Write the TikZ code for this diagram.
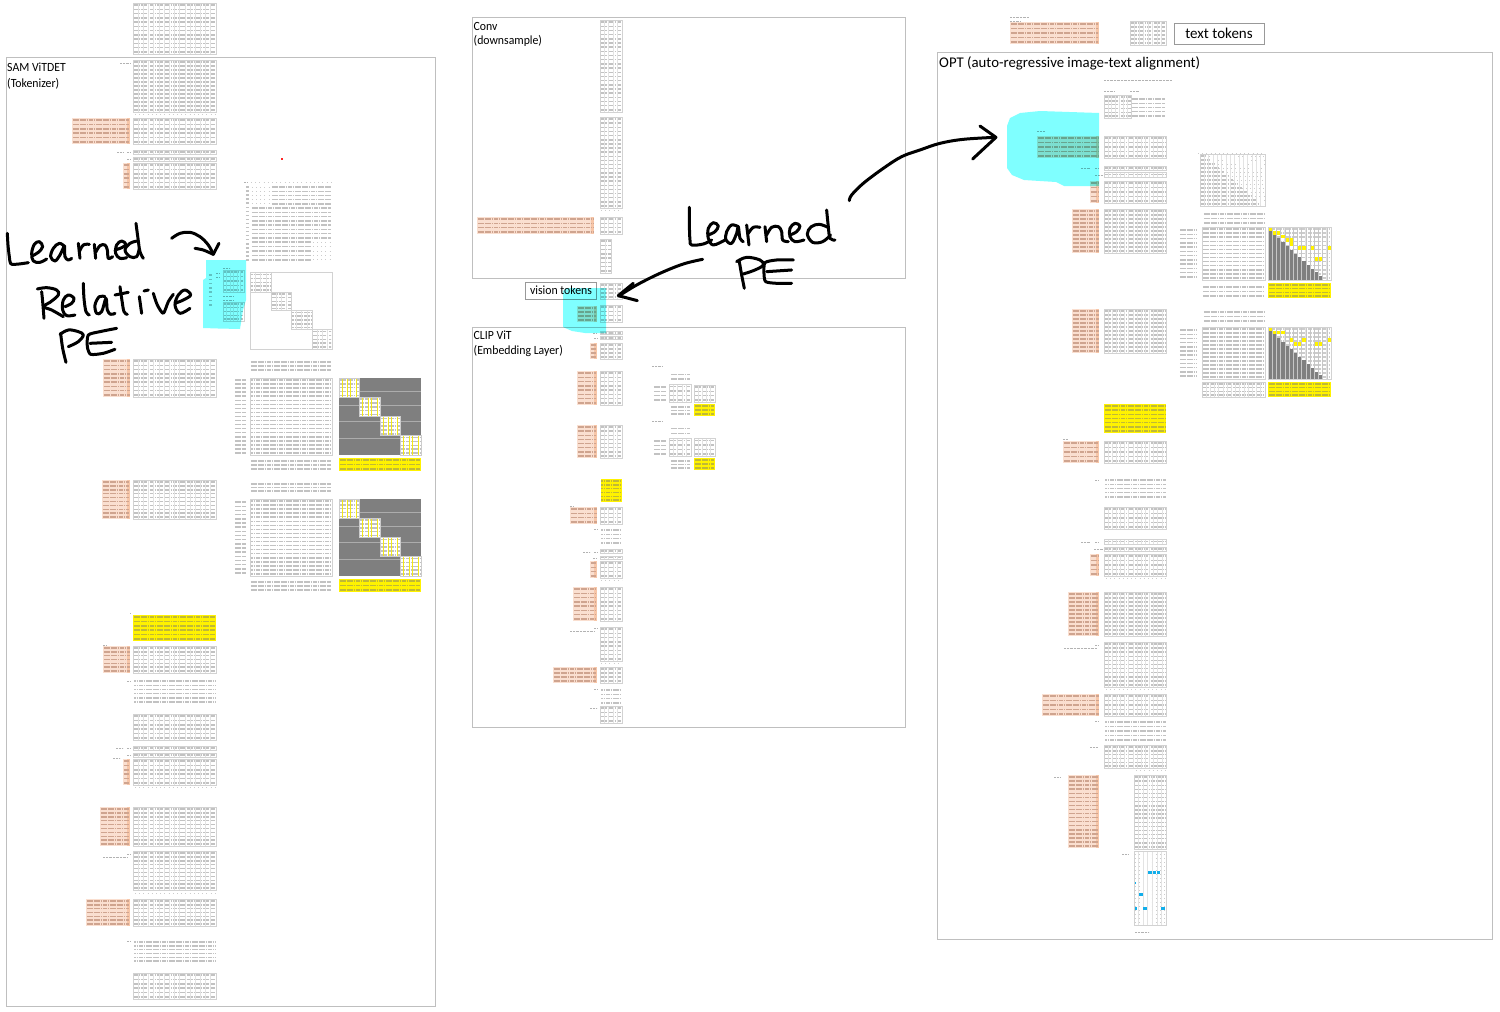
\documentclass[tikz,border=0pt]{standalone}
\usepackage{fontspec}
\setmainfont{Carlito}
\newfontfamily\labelfont[FakeStretch=.94]{Carlito}
\definecolor{frameC}{HTML}{BFBFBF}
\definecolor{orF}{HTML}{FADFD0}
\definecolor{orD}{HTML}{F7C6A8}
\definecolor{orR}{HTML}{CFA48F}
\definecolor{cyanH}{HTML}{7FFFFF}
\definecolor{darkM}{HTML}{7F7F7F}
\definecolor{blueC}{HTML}{12AEEA}
\tikzset{
 frameBox/.style={draw=frameC,line width=1pt},
 labelBox/.style={draw=gray!80,line width=.8pt,fill=white},
 big/.style={font=\labelfont\fontsize{12.5}{14}\selectfont,anchor=base west,inner sep=0pt},
 rowLn/.style={line width=1.5pt,draw=gray!48,dash pattern=on 1.8pt off .5pt},
 sparseLn/.style={line width=1pt,draw=gray!40,dash pattern=on 1pt off 3.2pt},
 gridLn/.style={line width=.7pt,draw=white!78!gray},
 bordLn/.style={line width=1pt,draw=gray!35},
 ink/.style={line width=3pt,black,line cap=round,line join=round},
 tinyLn/.style={line width=.7pt,draw=gray!60,dash pattern=on 1pt off .4pt},
}
% rows only
\newcommand\mR[5][rowLn]{\pgfmathtruncatemacro\nr{max(1,round((#5-#4)/4.1))}%
 \foreach \i in {1,...,\nr}{\pgfmathsetmacro\yy{#4+(#5-#4)*(\i-.5)/\nr}%
  \draw[#1] ({#2+.8},\yy) -- ({#3-.8},\yy);}}
% grid lines
\newcommand\mG[5]{\foreach \i in {1,...,#5}{\pgfmathsetmacro\xx{#1+(#2-#1)*\i/#5}%
  \draw[gridLn] (\xx,#3) -- (\xx,#4);}}
% bordered table
\newcommand\mT[5]{\mR{#1}{#2}{#3}{#4}\mG{#1}{#2}{#3}{#4}{#5}\draw[bordLn] (#1,#3) rectangle (#2,#4);}
% bordered table without inner grid
\newcommand\mB[4]{\mR{#1}{#2}{#3}{#4}\draw[bordLn] (#1,#3) rectangle (#2,#4);}
% orange table
\newcommand\mO[4]{\fill[orF] (#1,#3) rectangle (#2,#4);\fill[orD] ({#2-3},#3) rectangle (#2,#4);%
 \mR[{rowLn,draw=orR}]{#1}{#2}{#3}{#4}}
% yellow table
\newcommand\mY[4]{\fill[yellow] (#1,#3) rectangle (#2,#4);\mR[{rowLn,draw=yellow!72!black}]{#1}{#2}{#3}{#4}}
% tiny caption mark
\newcommand\mL[3]{\draw[tinyLn] (#1,#3) -- (#2,#3);}
% row of dots
\newcommand\mP[3]{\draw[sparseLn] (#1,#3) -- (#2,#3);}
% dark block matrix, four white blocks
\newcommand\mD[4]{\fill[darkM] (#1,#3) rectangle (#2,#4);
 \foreach \j in {.17,.36,.56,.78}{\pgfmathsetmacro\yy{#3+(#4-#3)*\j}\draw[line width=.5pt,gray!65] (#1,\yy) -- (#2,\yy);}
 \foreach \k in {0,1,2,3}{\pgfmathsetmacro\ax{#1+(#2-#1)*\k/4}\pgfmathsetmacro\bx{#1+(#2-#1)*(\k+1)/4}%
  \pgfmathsetmacro\ay{#3+(#4-#3)*\k/4}\pgfmathsetmacro\by{#3+(#4-#3)*(\k+1)/4}%
  \fill[white] (\ax,\ay) rectangle (\bx,\by);
  \mR{\ax}{\bx}{\ay}{\by}
  \foreach \j in {1,3,4,6}{\pgfmathsetmacro\xx{\ax+(\bx-\ax)*\j/7}\draw[line width=.6pt,yellow!90!gray] (\xx,\ay) -- (\xx,\by);}
  \draw[line width=.8pt,gray!40] (\ax,\ay) rectangle (\bx,\by);}
}
% triangular matrix
\newcommand\mU[5]{\pgfmathsetmacro\cw{(#2-#1)/15}\pgfmathsetmacro\ch{(#4-#3)/14}%
 \mR[{rowLn,draw=gray!40}]{#1}{#2}{#3}{#4}\mG{#1}{#2}{#3}{#4}{15}
 \foreach \r in {1,...,13}{\foreach \c in {1,...,\r}{%
  \fill[darkM] ({#1+(\c-1)*\cw},{#3+\r*\ch}) rectangle ({#1+\c*\cw},{#3+(\r+1)*\ch});}}
 \foreach \r/\c in {#5}{\fill[yellow] ({#1+\c*\cw},{#3+\r*\ch}) rectangle ({#1+(\c+1)*\cw},{#3+(\r+1)*\ch});}
 \foreach \j in {1,...,14}{\pgfmathsetmacro\xx{#1+\j*\cw}\draw[line width=.3pt,gray!45] (\xx,#3) -- (\xx,#4);}
 \draw[bordLn] (#1,#3) rectangle (#2,#4);}
% triangular text
\newcommand\mV[4]{\pgfmathsetmacro\ch{(#4-#3)/13}\foreach \r in {1,...,13}{\pgfmathsetmacro\yy{#3+(\r-.5)*\ch}%
  \pgfmathsetmacro\xm{#1+(#2-#1)*\r/14}\draw[rowLn] (#1,\yy) -- (\xm,\yy);\draw[sparseLn] (\xm,\yy) -- (#2,\yy);}
 \mG{#1}{#2}{#3}{#4}{15}\draw[bordLn] (#1,#3) rectangle (#2,#4);}
\begin{document}
\begin{tikzpicture}[x=1pt,y=-1pt]
\useasboundingbox (0,0) rectangle (1500,1012);
\fill[white] (0,0) rectangle (1500,1012);
%% frames
\draw[frameBox] (6.5,57.5) rectangle (435.5,1006);
\draw[frameBox] (472.5,17.5) rectangle (905,278);
\draw[frameBox] (472.5,327) rectangle (905,727.5);
\draw[frameBox] (937.5,52) rectangle (1492.5,939.5);
%% big labels
\node[big] (samA) at (7,71) {SAM ViTDET};
\node[big] (samB) at (7,87) {(Tokenizer)};
\node[big] (convA) at (473.5,30) {Conv};
\node[big] (convB) at (473.5,44) {(downsample)};
\node[big] (clipA) at (473.5,339) {CLIP ViT};
\node[big] (clipB) at (473.5,354) {(Embedding Layer)};
\node[big,font=\fontsize{14.8}{17}\selectfont] (optT) at (939,67) {OPT (auto-regressive image-text alignment)};
\node[labelBox,minimum width=70.5pt,minimum height=17pt,inner sep=0pt,font=\labelfont\fontsize{12.5}{14}\selectfont] (vis) at (561,290.5) {vision tokens};
\node[labelBox,minimum width=90pt,minimum height=21pt,inner sep=0pt,font=\fontsize{15}{17}\selectfont] (txt) at (1219,33.5) {text tokens};
%% ---- SAM column
\mT{133}{216}{3}{54}{16}
\mL{120}{130}{63}
\mT{133}{216}{60}{112}{16}\mP{135}{216}{114}
\mO{72}{130}{118}{144}\mT{133}{216}{118}{144}{16}
\mL{117}{123}{152}\mL{127}{130}{152}\mT{133}{216}{150}{154}{16}\mT{133}{216}{157}{161}{16}\mL{127}{130}{159}
\mO{123}{130}{163}{189}\mT{133}{216}{163}{189}{16}
\fill[red!85] (281,158) rectangle (283,160);
\mL{244}{248}{182}\mP{251}{332}{182}
\mR{245}{249}{185}{262}
\mR[sparseLn]{251}{271}{185}{206}\mR{271}{332}{185}{206}
\mR{251}{332}{206}{240}
\mR{251}{312}{240}{262}\mR[sparseLn]{312}{332}{240}{262}
%% block attention
\draw[bordLn,line width=.9pt] (250.5,272.5) rectangle (332,349);
\foreach \a/\b/\c/\d in {250.5/271/272.5/292,271/291.5/292/310.5,291.5/312/310.5/329.5,312/332/329.5/349}{\mT{\a}{\b}{\c}{\d}{4}}
\mT{223}{244}{270}{292}{6}\mL{223}{230}{268}
\mT{223}{244}{302}{321}{6}\mL{223}{234}{296}\mL{223}{234}{300}
\mR{208}{213}{273}{307}\mL{216}{219}{273}\mL{216}{219}{277}
\mR{250}{332}{360}{372}
\mO{103}{130}{359}{397}\mT{133}{216}{359}{397}{16}
\mR{234}{247}{378}{455}\mB{250.5}{332}{378}{455}
\mD{339}{421}{378}{455}
\mR{250}{332}{459}{471}\mY{339}{421}{458}{471}
\mR{250}{332}{482}{493}
\mO{102}{130}{480}{519}\mT{133}{216}{480}{519}{16}
\mR{234}{247}{500}{575}\mB{250.5}{332}{499}{576}
\mD{339}{421}{499}{576}
\mR{250}{332}{580}{592}\mY{339}{421}{579}{592}
\mY{133}{216}{615}{641}\mL{130}{131}{613}
\mO{103}{130}{646}{673}\mT{133}{216}{646}{673}{16}\mL{103}{106}{645}
\mR{133.5}{216}{679}{704}\mL{127}{130}{681}
\mT{133}{216}{714}{740}{16}
\mL{116}{123}{748}\mL{127}{130}{748}\mT{133}{216}{746}{750}{16}\mT{133}{216}{753}{757}{16}\mL{127}{130}{755}\mL{113}{120}{758}
\mO{123}{130}{759}{785}\mT{133}{216}{759}{785}{16}\mP{135}{216}{787}
\mO{100}{130}{807}{846}\mT{133}{216}{807}{846}{16}
\mL{127}{130}{854}\mL{103}{128}{857}\mT{133}{216}{851}{890}{16}\mP{135}{216}{893}
\mO{86}{130}{899}{926}\mT{133}{216}{899}{926}{16}
\mR{133.5}{216}{940}{963}\mL{127}{130}{941}
\mT{133}{216}{973}{999}{16}
%% ---- Conv column
\mT{600}{622}{20}{112}{5}\mT{600}{622}{117}{208}{5}\mP{601}{622}{210}
\mO{477}{594}{217}{234}\mT{600}{622}{217}{234}{5}
\mT{600}{611}{239}{273}{2}
\mT{600}{622}{283}{299}{5}
\mO{577}{597}{306}{322}\mT{600}{622}{305}{322}{5}
%% ---- CLIP column
\mT{600}{622}{331}{334.5}{5}\mT{600}{622}{336}{339.5}{5}\mL{593}{597}{333}\mL{594}{597}{338}
\mO{590}{597}{343}{359}\mT{600}{622}{343}{359}{5}
\mO{577}{597}{371}{405}\mT{600}{622}{371}{405}{5}
\mO{577}{597}{425}{458}\mT{600}{622}{425}{458}{5}
\mL{652}{662}{366}\mR{670}{691}{372}{381}\mR{653}{667}{385}{402}\mT{669}{691}{384}{402}{5}\mT{694}{715}{385}{402}{5}
\mR{670}{691}{405}{416}\mY{694}{715}{404}{416}
\mL{652}{662}{421}\mR{670}{691}{426}{436}\mR{653}{667}{439}{456}\mT{669}{691}{438}{456}{5}\mT{694}{715}{438}{456}{5}
\mR{670}{691}{459}{470}\mY{694}{715}{458}{470}
\mY{600.5}{622}{479}{502}
\mL{570}{573}{506}\mO{570}{597}{507}{524}\mT{600}{622}{507}{524}{5}
\mR{600.5}{622}{528}{545}\mL{594}{597}{529}
\mL{583}{590}{552}\mL{594}{597}{552}\mT{600}{622}{549}{553}{5}\mT{600}{622}{556}{559}{5}\mL{593}{597}{558}
\mO{590}{597}{561}{578}\mT{600}{622}{561}{578}{5}\mP{601}{622}{580}
\mO{573}{597}{587}{621}\mT{600}{622}{587}{621}{5}
\mL{594}{597}{628}\mL{570}{595}{631}\mT{600}{622}{627}{661}{5}\mP{601}{622}{663}
\mO{553}{597}{667}{683}\mT{600}{622}{667}{683}{5}
\mR{600.5}{622}{688}{705}\mL{594}{597}{689}
\mL{590}{597}{708}\mT{600}{622}{706}{723}{5}
%% ---- header right
\mL{1010}{1029}{17}\mL{1010}{1020}{21}
\mO{1010}{1099}{22}{44}\mT{1130}{1166}{21}{45}{8}
%% ---- OPT column
\mL{1104}{1172}{80}\mL{1104}{1115}{91}\mL{1130}{1139}{91}
\mT{1104}{1131}{95}{118}{7}\mR{1131}{1166}{97}{118}
\mO{1037}{1099}{136}{158}\mT{1104}{1166}{136}{158}{15}\mL{1037}{1045}{131}
\mL{1081}{1090}{168}\mL{1095}{1099}{168}\mT{1104}{1166}{166}{170}{15}\mT{1104}{1166}{172}{177}{15}\mL{1095}{1103}{175}
\mO{1090}{1099}{181}{203}\mT{1104}{1166}{181}{203}{15}
\mO{1072}{1099}{209}{253}\mT{1104}{1166}{209}{253}{15}
\mO{1072}{1099}{309}{353}\mT{1104}{1166}{309}{353}{15}
\mY{1104}{1166}{404}{433}
\mL{1063}{1068}{439}\mO{1063}{1099}{441}{463}\mT{1104}{1166}{441}{463}{15}
\mR{1104.5}{1166}{478}{499}\mL{1095}{1098}{480}
\mT{1104}{1166}{507}{529}{15}
\mL{1081}{1090}{542}\mL{1095}{1099}{542}\mT{1104}{1166}{539}{544}{15}\mT{1104}{1166}{547}{551}{15}\mL{1094}{1103}{549}
\mO{1090}{1099}{554}{576}\mT{1104}{1166}{554}{576}{15}\mP{1106}{1166}{578}
\mO{1068}{1099}{592}{636}\mT{1104}{1166}{592}{636}{15}
\mL{1095}{1099}{645}\mL{1064}{1097}{648}\mT{1104}{1166}{642}{687}{15}\mP{1106}{1166}{689}
\mO{1042}{1099}{694}{716}\mT{1104}{1166}{694}{716}{15}
\mR{1104.5}{1166}{720}{742}\mL{1095}{1098}{721}
\mL{1090}{1098}{747}\mT{1104}{1166}{745}{768}{15}\mP{1136}{1166}{770}
\mL{1054}{1060}{777}\mO{1068}{1099}{775}{848}\mT{1134}{1166}{775}{849}{7}
\mL{1122}{1128}{854}
\mR[sparseLn]{1134}{1166}{852}{925}
\mG{1134}{1166}{851}{925}{7}
\foreach \a/\b/\c/\d in {1148/1152/871/874,1153/1156/871/874,1157/1160/871/874,1134/1136/882/884,1139/1143/893/896,1134/1137/907/910,1143/1147/907/910,1161/1165/907/910}{\fill[blueC] (\a,\c) rectangle (\b,\d);}
\draw[bordLn] (1134,851) rectangle (1166,925);
\mL{1135}{1149}{932}
%% ---- right group
\mP{1198}{1265}{153}
\mV{1200}{1265}{154}{206}
\mR{1203}{1265}{212}{225}
\mR{1179}{1197}{228}{279}\mB{1202}{1265}{227}{280}
\mU{1268}{1331}{227}{280}{0/0,1/1,1/2,2/3,3/4,3/5,4/5,5/7,5/8,5/10,5/14,8/11,8/12}
\mR{1202}{1265}{285}{298}\mY{1268}{1331}{283}{298}
\mR{1203}{1265}{310}{323}
\mR{1179}{1197}{328}{378}\mB{1202}{1265}{327}{379}
\mU{1268}{1331}{327}{379}{0/0,1/1,1/2,1/3,3/5,3/8,3/14,4/6,4/7,4/11,4/12}
\mT{1202}{1265}{382}{397}{15}\mY{1268}{1331}{382}{397}
%% ---- cyan highlights (marker laid over what is beneath)
\begin{scope}[blend mode=multiply]
\fill[cyanH] (206,260) -- (246,260) -- (246,300) -- (243,310) -- (240,329) -- (218,328.5) -- (203,328) -- (203,280) -- (206,278) -- cycle;
\fill[cyanH] (563,291) -- (566,288) -- (606,288) -- (606,333) -- (585,333) -- (572,331) -- (563,327) -- cycle;
\fill[cyanH] (1099,113) -- (1040,111) -- (1020,113) -- (1010,118) -- (1007,126) -- (1007,168) -- (1012,175) -- (1024,180) -- (1056,182) -- (1064,186) -- (1099,186) -- cycle;
\end{scope}
%% ---- handwriting, left (zoomed trace coordinates)
\begin{scope}[shift={(0,215)},x=.3333pt,y=-.3333pt]
\draw[ink] plot[smooth,tension=.6] coordinates {(22,55)(24,90)(28,125)(32,146)(45,148)(65,146)(85,143)};
\draw[ink] plot[smooth,tension=.6] coordinates {(98,122)(115,112)(128,95)(118,80)(103,88)(95,115)(100,138)(120,142)(140,132)};
\draw[ink] plot[smooth,tension=.6] coordinates {(195,95)(178,85)(160,100)(152,125)(165,138)(180,120)(193,95)(195,125)(205,135)(215,130)};
\draw[ink] (235,85) -- (240,130);
\draw[ink] plot[smooth,tension=.6] coordinates {(238,110)(250,90)(268,88)};
\draw[ink] (283,88) -- (287,130);
\draw[ink] plot[smooth,tension=.6] coordinates {(287,112)(300,92)(315,90)(322,105)(325,130)(338,125)};
\draw[ink] plot[smooth,tension=.6] coordinates {(345,105)(365,98)(378,88)(365,78)(350,90)(347,115)(360,130)(380,128)};
\draw[ink] plot[smooth,tension=.6] coordinates {(412,78)(390,85)(375,105)(390,125)(410,125)(418,100)};
\draw[ink] plot[smooth,tension=.6] coordinates {(408,25)(414,70)(420,110)(430,130)};
\draw[ink] plot[smooth,tension=.6] coordinates {(515,70)(540,55)(570,52)(600,65)(625,90)(640,118)};
\draw[ink] plot[smooth,tension=.4] coordinates {(585,100)(610,105)(640,118)};
\draw[ink] (640,118) -- (657,85);
\draw[ink] plot[smooth,tension=.6] coordinates {(125,230)(128,260)(132,310)};
\draw[ink] plot[smooth,tension=.6] coordinates {(112,222)(140,218)(170,225)(175,240)(150,262)(130,275)(155,285)(190,305)};
\draw[ink] plot[smooth,tension=.6] coordinates {(195,275)(215,265)(222,250)(205,240)(190,255)(188,285)(200,302)(225,300)};
\draw[ink] plot[smooth,tension=.6] coordinates {(250,205)(252,250)(258,290)(268,300)};
\draw[ink] plot[smooth,tension=.6] coordinates {(315,245)(298,245)(285,270)(290,295)(305,290)(318,250)(322,285)(332,298)(345,295)};
\draw[ink] plot[smooth,tension=.6] coordinates {(360,215)(365,250)(372,290)(382,298)};
\draw[ink] (345,240) -- (385,232);
\draw[ink] (418,245) -- (425,295);
\draw[ink] (432,228) -- (445,225);
\draw[ink] plot[smooth,tension=.4] coordinates {(460,235)(472,270)(490,295)(505,260)(520,238)};
\draw[ink] plot[smooth,tension=.6] coordinates {(525,265)(550,255)(572,240)(555,225)(535,240)(525,270)(540,295)(570,280)};
\draw[ink] plot[smooth,tension=.6] coordinates {(182,355)(188,400)(198,442)};
\draw[ink] plot[smooth,tension=.6] coordinates {(180,358)(205,345)(235,350)(250,360)(235,380)(205,395)};
\draw[ink] plot[smooth,tension=.4] coordinates {(350,340)(300,350)(265,360)(262,395)(272,418)(310,415)(345,403)};
\draw[ink] (270,385) -- (335,382);
\end{scope}
%% ---- handwriting, centre
\begin{scope}[shift={(600,120)},x=.3333pt,y=-.3333pt]
\draw[ink] plot[smooth,tension=.6] coordinates {(268,262)(268,310)(270,360)(275,375)(310,372)(335,360)};
\draw[ink] plot[smooth,tension=.6] coordinates {(325,345)(345,335)(355,318)(340,308)(325,325)(325,355)(340,375)(375,360)};
\draw[ink] plot[smooth,tension=.6] coordinates {(415,320)(395,315)(380,335)(378,360)(395,370)(410,340)(415,320)(420,355)(430,365)};
\draw[ink] (440,315) -- (447,375);
\draw[ink] plot[smooth,tension=.6] coordinates {(445,340)(460,322)(480,322)};
\draw[ink] (495,320) -- (500,365);
\draw[ink] plot[smooth,tension=.6] coordinates {(500,345)(515,322)(535,320)(545,335)(548,360)(565,365)};
\draw[ink] plot[smooth,tension=.6] coordinates {(570,345)(590,335)(600,318)(585,310)(570,325)(570,350)(585,365)(612,360)};
\draw[ink] plot[smooth,tension=.6] coordinates {(684,322)(658,313)(634,320)(622,342)(638,367)(668,365)(692,345)};
\draw[ink] plot[smooth,tension=.6] coordinates {(680,270)(685,320)(690,355)(705,360)};
\draw[ink] plot[smooth,tension=.6] coordinates {(418,425)(425,465)(433,505)};
\draw[ink] plot[smooth,tension=.6] coordinates {(410,425)(440,412)(480,420)(490,435)(465,450)(430,462)};
\draw[ink] plot[smooth,tension=.4] coordinates {(580,420)(530,420)(495,428)(492,460)(497,485)(530,490)(575,490)};
\draw[ink] (500,455) -- (575,450);
\draw[ink] plot[smooth,tension=.6] coordinates {(748,242)(755,225)(790,190)(850,145)(905,110)(960,90)(1020,70)(1090,58)(1185,52)};
\draw[ink] (1140,18) -- (1188,52) -- (1118,117);
\draw[ink] plot[smooth,tension=.6] coordinates {(308,418)(250,432)(180,460)(110,495)(58,527)};
\draw[ink] (100,490) -- (55,527) -- (112,542);
\end{scope}
\end{tikzpicture}
\end{document}
